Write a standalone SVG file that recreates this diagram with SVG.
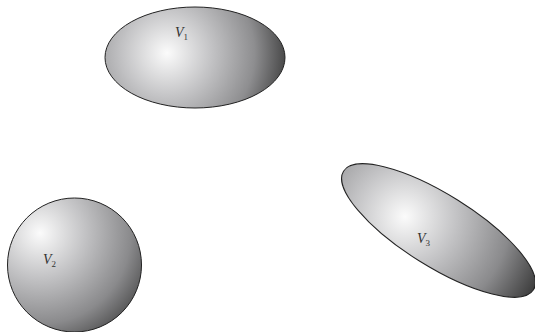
<svg xmlns="http://www.w3.org/2000/svg" width="535" height="332" viewBox="0 0 535 332">
<style>
.shape{stroke:#222;stroke-width:1}
.lbl{font-family:"Liberation Serif",serif;font-style:italic;font-size:14px;fill:#333}
.sub{font-style:normal;font-size:9px}
</style>
<defs>
<radialGradient id="g1" gradientUnits="userSpaceOnUse" cx="167" cy="53" r="125">
<stop offset="0" stop-color="#fbfbfb"/>
<stop offset="0.35" stop-color="#c4c4c6"/>
<stop offset="0.7" stop-color="#8e8e90"/>
<stop offset="1" stop-color="#3a3a3a"/>
</radialGradient>
<radialGradient id="g2" gradientUnits="userSpaceOnUse" cx="40" cy="233" r="130">
<stop offset="0" stop-color="#fbfbfb"/>
<stop offset="0.35" stop-color="#c2c2c4"/>
<stop offset="0.7" stop-color="#8a8a8c"/>
<stop offset="1" stop-color="#3a3a3a"/>
</radialGradient>
<radialGradient id="g3" gradientUnits="userSpaceOnUse" cx="-36" cy="6" r="150">
<stop offset="0" stop-color="#fbfbfb"/>
<stop offset="0.35" stop-color="#c2c2c4"/>
<stop offset="0.7" stop-color="#8a8a8c"/>
<stop offset="1" stop-color="#3a3a3a"/>
</radialGradient>
</defs>
<g id="V1">
<ellipse class="shape" cx="195" cy="57.5" rx="90" ry="50.5" fill="url(#g1)"/>
<text class="lbl" x="175" y="37">V<tspan class="sub" dx="0" dy="3">1</tspan></text>
</g>
<g id="V2">
<circle class="shape" cx="74.5" cy="265" r="67" fill="url(#g2)"/>
<text class="lbl" x="43" y="264">V<tspan class="sub" dy="3">2</tspan></text>
</g>
<g id="V3">
<ellipse class="shape" transform="translate(438.5 230.5) rotate(32)" cx="0" cy="0" rx="112" ry="36" fill="url(#g3)"/>
<text class="lbl" x="417" y="243">V<tspan class="sub" dy="3">3</tspan></text>
</g>
<g id="connectors"/>
</svg>
